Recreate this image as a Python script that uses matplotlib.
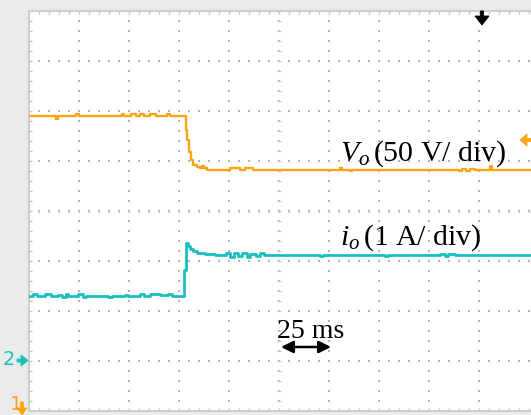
import matplotlib
matplotlib.use("Agg")
import matplotlib.pyplot as plt
from matplotlib.patches import Polygon
import numpy as np

# ---------------- data (read from the scope capture) ----------------
# channel settings
ms_per_div = 25
volts_per_div = 50      # CH1  (Vo)
amps_per_div = 1        # CH2  (io)
ch1_ground_div = -4
ch2_ground_div = -3

# CH1 : output voltage Vo (time in ms, value in V), step trace
vo_time = [0, 13.5, 14.5, 23.5, 25, 46.5, 47.5, 51, 53.5, 55.5, 57.5, 60.5, 63.5,
           69, 70.5, 78.5, 79, 80, 81, 82, 84, 85.5, 86.5, 87.5, 89, 100.5, 105.5,
           108, 112, 155.5, 156.5, 160.5, 161.5, 215, 216.5, 218.5, 220.5, 223,
           230.5, 231.5, 251]
vo_value = [295, 292, 295, 297, 295, 297, 295, 297, 295, 297, 295, 297, 295,
            297, 295, 281, 271, 259, 251, 246, 244, 243, 245, 243, 241, 243, 241,
            243, 241, 243, 241, 240, 241, 240, 242, 240, 242, 241,
            245, 241, 241]

# CH2 : output current io (time in ms, value in A), step trace
io_time = [0, 2, 4, 8, 11, 14.5, 16.5, 18.5, 19.5, 24.5, 27, 28.5, 39.5, 41.5,
           48, 49.5, 55.5, 57.5, 60.5, 65.5, 69.5, 71.5, 77.5, 78.5, 79.5, 80.5,
           82, 84, 88, 93, 98.5, 100.5, 102.5, 104.5, 106.5, 109, 110.5, 113.5,
           115.5, 117.5, 145.5, 147, 178, 179.5, 205.5, 208, 209.5, 213, 251]
io_value = [1.30, 1.34, 1.30, 1.34, 1.30, 1.32, 1.28, 1.34, 1.30, 1.34, 1.28, 1.30,
            1.28, 1.30, 1.32, 1.30, 1.34, 1.30, 1.34, 1.32, 1.34, 1.30, 1.82, 2.36,
            2.30, 2.24, 2.20, 2.16, 2.14, 2.12, 2.16, 2.08, 2.16, 2.10, 2.16, 2.08,
            2.14, 2.10, 2.16, 2.12, 2.10, 2.12, 2.10, 2.12, 2.14, 2.10, 2.14, 2.12,
            2.12]

vo_label = r"$V_o\,$(50 V/ div)"
io_label = r"$i_o\,$(1 A/ div)"
scale_label = "25 ms"

# ---------------- style ----------------
W, H = 531, 415
DPI = 100
ORANGE = "#fea313"
CYAN = "#17c0c0"
BG = "#ebebeb"
DOT = "#b5b5b5"
BORDER = "#cdcdcd"

plt.rcParams["mathtext.fontset"] = "custom"
plt.rcParams["mathtext.rm"] = "Liberation Serif"
plt.rcParams["mathtext.it"] = "Liberation Serif:italic"

fig = plt.figure(figsize=(W / DPI, H / DPI), dpi=DPI, facecolor=BG)


def fx(x):
    return x / W


def fy(y):
    return 1 - y / H


ax = fig.add_axes([fx(29), fy(411), 502 / W, 400 / H])
ax.set_facecolor("white")
ax.set_xlim(0, 10.04)
ax.set_ylim(-4, 4)

# border
for s in ["top", "left", "bottom"]:
    ax.spines[s].set_color(BORDER)
    ax.spines[s].set_linewidth(1.4)
ax.spines["right"].set_visible(False)
ax.set_xticks([])
ax.set_yticks([])
ax.set_xticks(np.arange(0, 10.01, 0.2), minor=True)
ax.set_yticks(np.arange(-4, 4.01, 0.2), minor=True)
ax.tick_params(which="minor", direction="in", length=2.4, width=1.0,
               color="#c4c4c4", top=True, bottom=True, left=True, right=False,
               labelbottom=False, labelleft=False)

# dotted graticule
sub = np.arange(0, 10.01, 0.2)
for gy in range(-3, 4):
    ax.scatter(sub, np.full_like(sub, gy), s=1.3, marker="s", color=DOT,
               linewidths=0, zorder=1)
suby = np.arange(-4, 4.01, 0.2)
for gx in range(1, 10):
    ax.scatter(np.full_like(suby, gx), suby, s=1.3, marker="s", color=DOT,
               linewidths=0, zorder=1)
# centre-line minor marks
ax.scatter(sub, np.zeros_like(sub), s=12, marker="|", color="#c8c8c8",
           linewidths=0.9, zorder=1)
ax.scatter(np.full_like(suby, 5), suby, s=12, marker="_", color="#c8c8c8",
           linewidths=0.9, zorder=1)

# traces
t_vo = np.array(vo_time) / ms_per_div
y_vo = np.array(vo_value) / volts_per_div + ch1_ground_div
t_io = np.array(io_time) / ms_per_div
y_io = np.array(io_value) / amps_per_div + ch2_ground_div
ax.plot(t_vo, y_vo, drawstyle="steps-post", color=ORANGE, lw=1.7, zorder=3)
ax.plot(t_io, y_io, drawstyle="steps-post", color=CYAN, lw=2.0, zorder=3)

# labels
fig.text(fx(340), fy(161), vo_label, fontsize=21.5, family="Liberation Serif",
         va="baseline", ha="left")
fig.text(fx(340), fy(245), io_label, fontsize=21.5, family="Liberation Serif",
         va="baseline", ha="left")
fig.text(fx(277), fy(338), scale_label, fontsize=20, family="Liberation Serif",
         va="baseline", ha="left")
fig.add_artist(matplotlib.patches.FancyArrowPatch(
    (fx(281), fy(347)), (fx(331), fy(347)), transform=fig.transFigure,
    arrowstyle="<|-|>", mutation_scale=18, color="black", lw=1.8,
    shrinkA=0, shrinkB=0))


def marker(points, color):
    fig.add_artist(Polygon([(fx(x), fy(y)) for x, y in points], closed=True,
                           transform=fig.transFigure, facecolor=color,
                           edgecolor=color, lw=0.6))


# channel ground markers
fig.text(fx(10), fy(410), "1", color=ORANGE, fontsize=14, family="DejaVu Sans",
         va="baseline", ha="left")
marker([(20.5, 402), (23.5, 402), (23.5, 408), (27, 408), (22, 415), (17, 408),
        (20.5, 408)], ORANGE)
fig.text(fx(3), fy(365), "2", color=CYAN, fontsize=14, family="DejaVu Sans",
         va="baseline", ha="left")
marker([(17, 359), (21, 359), (21, 355), (28, 360.5), (21, 366), (21, 362),
        (17, 362)], CYAN)

# trigger position marker (top)
marker([(480.5, 11), (483.5, 11), (483.5, 16), (489, 16), (482, 25), (475, 16),
        (480.5, 16)], "black")
# trigger level marker (right)
marker([(531, 138.5), (527, 138.5), (527, 134), (520, 140), (527, 146),
        (527, 141.5), (531, 141.5)], ORANGE)

fig.savefig("out.png", dpi=DPI, facecolor=BG)
